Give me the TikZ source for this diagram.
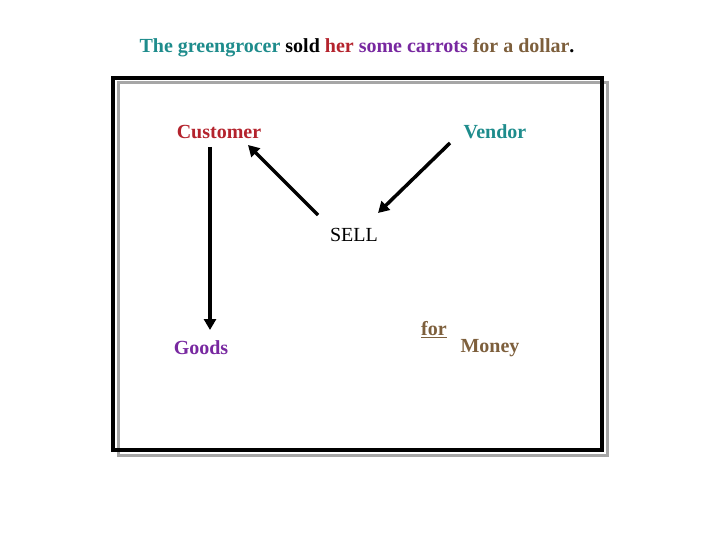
\documentclass[tikz,border=0pt]{standalone}
\usepackage{fontspec}
\setmainfont{Liberation Serif}
\usetikzlibrary{arrows.meta}
\definecolor{cteal}{RGB}{30,140,140}
\definecolor{cred}{RGB}{180,35,45}
\definecolor{cpurp}{RGB}{120,40,160}
\definecolor{cbrown}{RGB}{125,95,60}
\tikzset{lbl/.style={font=\fontsize{20}{24}\selectfont\bfseries, inner sep=0pt},
 arr/.style={line width=3.5pt,-{Triangle[length=11pt,width=12pt]}}}
\begin{document}
\begin{tikzpicture}[x=1pt,y=-1pt]
\useasboundingbox (0,0) rectangle (720,540);
\node[lbl] (title) at (357,48) {\textcolor{cteal}{The greengrocer} sold \textcolor{cred}{her} \textcolor{cpurp}{some carrots} \textcolor{cbrown}{for a dollar}.};
\draw[gray!70,line width=3pt] (118,83) rectangle (607,455);
\draw[black,line width=3.5pt] (113,78) rectangle (602,450);
\node[lbl,text=cred] (cust) at (219,132) {Customer};
\node[lbl,text=cteal] (vend) at (495,132) {Vendor};
\node[lbl,font=\fontsize{20}{24}\selectfont] (sell) at (354,235) {SELL};
\node[lbl,text=cpurp] (goods) at (201,348) {Goods};
\node[lbl,text=cbrown] (for) at (434,330) {\underline{for}};
\node[lbl,text=cbrown] (money) at (490,348) {Money};
\coordinate (c1) at (210,147); \coordinate (g1) at (210,330);
\coordinate (s1) at (318,215); \coordinate (c2) at (248,145);
\coordinate (v1) at (450,143); \coordinate (s2) at (378,213);
\draw[arr] (c1) -- (g1);
\draw[arr] (s1) -- (c2);
\draw[arr] (v1) -- (s2);
\end{tikzpicture}
\end{document}
